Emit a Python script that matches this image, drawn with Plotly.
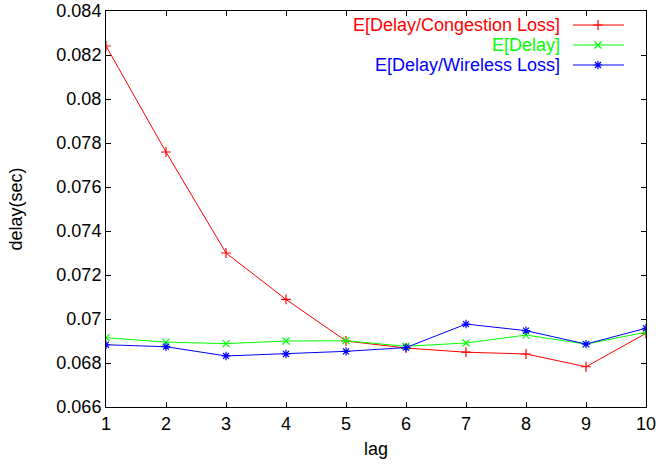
import plotly.graph_objects as go

lags = [1, 2, 3, 4, 5, 6, 7, 8, 9, 10]
congestion = [0.08241, 0.07759, 0.07300, 0.07089, 0.06900, 0.06868, 0.06849, 0.06841, 0.06783, 0.06935]
delay = [0.06915, 0.06895, 0.06888, 0.06900, 0.06901, 0.06876, 0.06891, 0.06927, 0.06886, 0.06940]
wireless = [0.06883, 0.06874, 0.06832, 0.06841, 0.06853, 0.06870, 0.06977, 0.06947, 0.06886, 0.06958]

names = ["E[Delay/Congestion Loss]", "E[Delay]", "E[Delay/Wireless Loss]"]
colors = ["#ff0000", "#00ff00", "#0000ff"]
symbols = ["cross-thin-open", "x-thin-open", "asterisk-open"]
series = [congestion, delay, wireless]

FONT = "Liberation Sans, Arial, Helvetica, sans-serif"
FS = 18

fig = go.Figure()
for name, col, sym, vals in zip(names, colors, symbols, series):
    fig.add_trace(go.Scatter(
        x=lags, y=vals, mode="lines+markers", name=name,
        line=dict(color=col, width=1),
        marker=dict(symbol=sym, size=7, color=col, line=dict(color=col, width=1.2)),
        showlegend=False,
    ))

# gnuplot-style key: text right-aligned, sample to the right
row_y = [14, 34, 54]  # pixel offsets from plot top
for name, col, sym, ry in zip(names, colors, symbols, row_y):
    fig.add_trace(go.Scatter(
        x=[467, 518], y=[ry, ry], mode="lines", xaxis="x2", yaxis="y2",
        line=dict(color=col, width=1), showlegend=False, hoverinfo="skip"))
    fig.add_trace(go.Scatter(
        x=[492], y=[ry], mode="markers", xaxis="x2", yaxis="y2",
        marker=dict(symbol=sym, size=7, color=col, line=dict(color=col, width=1.2)),
        showlegend=False, hoverinfo="skip"))
    fig.add_annotation(
        x=455, y=ry, xref="x2", yref="y2", text=name, showarrow=False,
        xanchor="right", yanchor="middle", borderpad=0,
        font=dict(family=FONT, size=FS, color=col))

axis_common = dict(
    showgrid=False, zeroline=False, showline=True, linecolor="black", linewidth=1,
    mirror="ticks", ticks="inside", ticklen=5, tickcolor="black", tickwidth=1,
    tickfont=dict(family=FONT, size=FS, color="black"), automargin=False,
)

fig.update_layout(
    width=658, height=465,
    margin=dict(l=106, r=12, t=11, b=58, autoexpand=False),
    paper_bgcolor="white", plot_bgcolor="white",
    font=dict(family=FONT, size=FS, color="black"),
    xaxis=dict(range=[1, 10], tickvals=lags, title=dict(text="lag", standoff=9,
               font=dict(family=FONT, size=FS)), **axis_common),
    yaxis=dict(range=[0.066, 0.084], dtick=0.002, tickformat="~g",
               title=dict(text="delay(sec)", standoff=29, font=dict(family=FONT, size=FS)),
               **axis_common),
    xaxis2=dict(range=[0, 540], overlaying="x", visible=False, fixedrange=True),
    yaxis2=dict(range=[396, 0], overlaying="y", visible=False, fixedrange=True),
)

fig.write_html("out.html")
